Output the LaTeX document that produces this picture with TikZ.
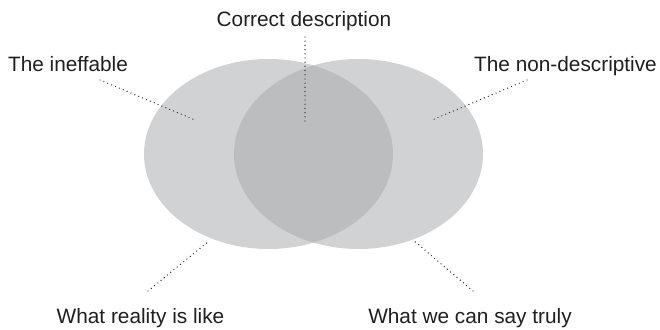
\documentclass[tikz,border=0pt]{standalone}
\usepackage{fontspec}
\setmainfont{Liberation Sans}
\definecolor{palegrey}{RGB}{209, 210, 212}
\definecolor{overlapgrey}{RGB}{188, 189, 191}
\definecolor{dotgrey}{RGB}{45, 45, 45}

\begin{document}
\begin{tikzpicture}[x=1pt, y=-1pt,
    caption/.style={anchor=base, font=\fontsize{20.8}{25}\selectfont, text=black!88},
    pointer/.style={dotgrey, line width=1.4pt, line cap=round, dash pattern=on 0pt off 4.2pt}]
  \useasboundingbox (0,0) rectangle (660,329);
  % the two regions and their overlap
  \fill[palegrey] (268.5,154) ellipse [x radius=124.5pt, y radius=95pt];
  \fill[palegrey] (358.5,154) ellipse [x radius=124.5pt, y radius=95pt];
  \begin{scope}
    \clip (268.5,154) ellipse [x radius=124.5pt, y radius=95pt];
    \fill[overlapgrey] (358.5,154) ellipse [x radius=124.5pt, y radius=95pt];
  \end{scope}
  % labels
  \node[caption] (correct) at (304,27) {Correct description};
  \node[caption] (ineffable) at (68,71) {The ineffable};
  \node[caption] (nondesc) at (565.5,71) {The non-descriptive};
  \node[caption] (reality) at (140.5,323) {What reality is like};
  \node[caption] (truly) at (470,323) {What we can say truly};
  % pointer ends
  \coordinate (correct-a) at (305,37);   \coordinate (correct-b) at (305,123);
  \coordinate (ineffable-a) at (100,80); \coordinate (ineffable-b) at (195,120);
  \coordinate (nondesc-a) at (527,80);   \coordinate (nondesc-b) at (432,120);
  \coordinate (reality-a) at (148,291);  \coordinate (reality-b) at (209,241);
  \coordinate (truly-a) at (473,291);    \coordinate (truly-b) at (413,240);
  \foreach \n in {correct, ineffable, nondesc, reality, truly} {
    \draw[pointer] (\n-a) -- (\n-b);
  }
\end{tikzpicture}
\end{document}
